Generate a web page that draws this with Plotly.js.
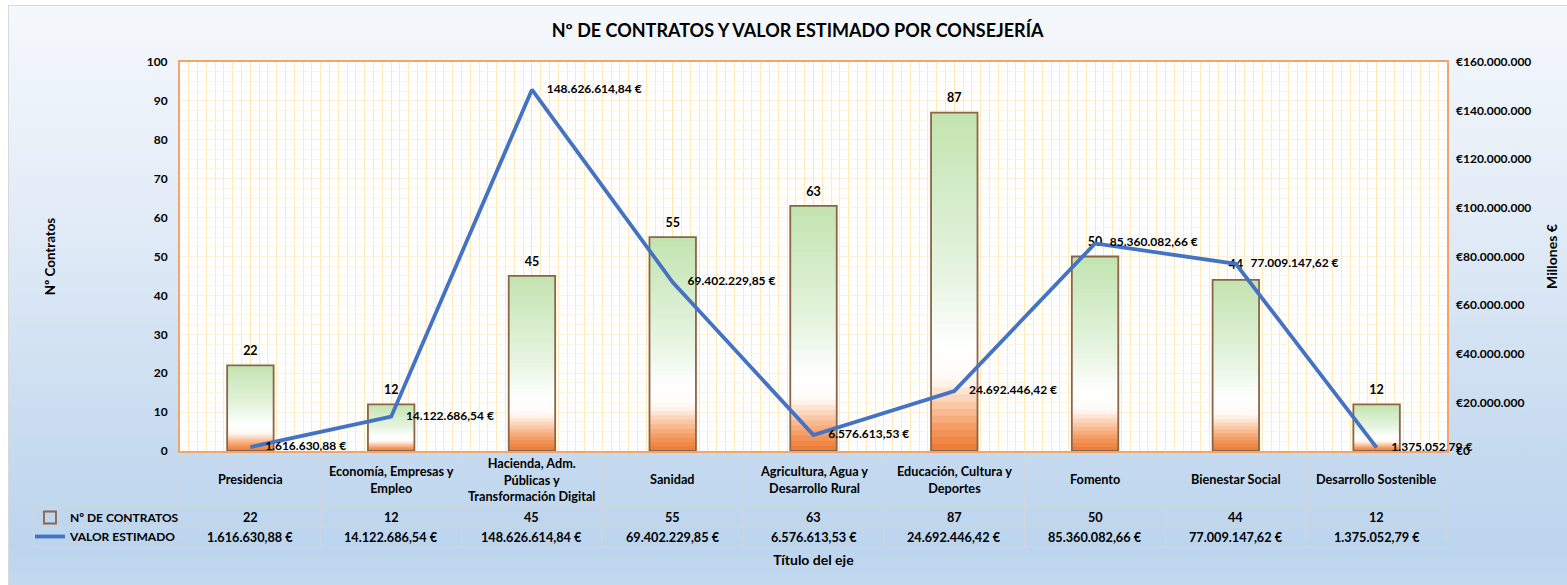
<!DOCTYPE html>
<html>
<head>
<meta charset="utf-8">
<script src="https://cdn.plot.ly/plotly-3.0.1.min.js"></script>
<style>
  html, body { margin: 0; padding: 0; background: #ffffff; }
  #wrap { position: relative; width: 1567px; height: 585px; overflow: hidden; }
  #bg { position: absolute; left: 8px; top: 5px; width: 1580px; height: 600px;
        border: 1.5px solid #d9d9d9;
        background: linear-gradient(to bottom, #f5f8fc 0%, #e2ecf7 35%, #c9dcf0 70%, #bcd5ee 90%, #c6dbef 100%); }
  #chart { position: absolute; left: 0; top: 0; width: 1567px; height: 585px; }
</style>
</head>
<body>
<div id="wrap">
  <div id="bg"></div>
  <div id="chart"></div>
</div>
<script>
// ---------------- data ----------------
const categories = [
  "Presidencia",
  "Economía, Empresas y<br>Empleo",
  "Hacienda, Adm.<br>Públicas y<br>Transformación Digital",
  "Sanidad",
  "Agricultura, Agua y<br>Desarrollo Rural",
  "Educación, Cultura y<br>Deportes",
  "Fomento",
  "Bienestar Social",
  "Desarrollo Sostenible"
];
const contratos = [22, 12, 45, 55, 63, 87, 50, 44, 12];
const valorEstimado = [1616630.88, 14122686.54, 148626614.84, 69402229.85, 6576613.53,
                       24692446.42, 85360082.66, 77009147.62, 1375052.79];
const seriesNames = ["Nº DE CONTRATOS", "VALOR ESTIMADO"];
const chartTitle = "Nº DE CONTRATOS Y VALOR ESTIMADO POR CONSEJERÍA";
const yTitle = "Nº Contratos";
const y2Title = "Millones €";
const xTitle = "Título del eje";

// ---------------- helpers ----------------
const fmtEuro = v => v.toLocaleString('de-DE', {minimumFractionDigits: 2, maximumFractionDigits: 2}) + " €";
const valorLabels = valorEstimado.map(fmtEuro);
const idx = categories.map((_, i) => i);

// gradient for bars: bottom orange -> white -> green top
const stops = [
  [0.00, [236, 120, 52]],
  [0.06, [244, 150, 90]],
  [0.13, [250, 196, 160]],
  [0.21, [255, 250, 246]],
  [0.30, [255, 255, 255]],
  [0.50, [232, 245, 226]],
  [1.00, [194, 228, 176]]
];
function colorAt(t) {
  for (let i = 1; i < stops.length; i++) {
    if (t <= stops[i][0]) {
      const a = stops[i-1], b = stops[i];
      const f = (t - a[0]) / (b[0] - a[0]);
      const c = a[1].map((v, j) => Math.round(v + (b[1][j] - v) * f));
      return `rgb(${c[0]},${c[1]},${c[2]})`;
    }
  }
  const c = stops[stops.length-1][1];
  return `rgb(${c[0]},${c[1]},${c[2]})`;
}

const FONT = "Lato, 'Open Sans', sans-serif";
const BAR_W = 0.33;
const K = 48;
const traces = [];

// gradient slices for each bar (each slice runs from its base to the bar top; later ones paint over)
for (let k = 0; k < K; k++) {
  traces.push({
    type: 'bar',
    x: idx,
    y: contratos.map(v => v * (1 - k / K)),
    base: contratos.map(v => v * k / K),
    width: BAR_W,
    marker: { color: colorAt((k + 0.5) / K), line: { width: 0 } },
    showlegend: false,
    legendgroup: 'bars',
    hoverinfo: 'skip'
  });
}

// bar outline (legend entry)
traces.push({
  type: 'bar',
  name: seriesNames[0],
  x: idx,
  y: contratos,
  base: contratos.map(() => 0),
  width: BAR_W,
  marker: { color: 'rgba(0,0,0,0)', line: { color: '#8c6446', width: 1.8 } },
  legendgroup: 'bars',
  showlegend: true
});

// bar value labels
traces.push({
  type: 'scatter',
  mode: 'markers+text',
  x: idx,
  y: contratos,
  marker: { size: 10, color: 'rgba(0,0,0,0)' },
  text: contratos.map(String),
  textposition: 'top center',
  textfont: { family: FONT, size: 12.5, color: '#000', weight: 700 },
  cliponaxis: false,
  showlegend: false
});

// line series
traces.push({
  type: 'scatter',
  mode: 'lines+markers+text',
  name: seriesNames[1],
  x: idx,
  y: valorEstimado,
  yaxis: 'y2',
  line: { color: '#4472c4', width: 3.8 },
  marker: { size: 22, color: 'rgba(0,0,0,0)' },
  text: valorLabels,
  textposition: 'middle right',
  textfont: { family: FONT, size: 12, color: '#000', weight: 700 },
  cliponaxis: false,
  showlegend: true
});

// ---------------- table below plot (annotations + lines) ----------------
const L = 180, R = 1447, T = 62, B = 451;
const pw = R - L, ph = B - T;
const px2x = px => (px - L) / pw;
const py2y = py => (B - py) / ph;

const TF = { family: FONT, size: 12.7, color: '#000', weight: 700 };
const annotations = [];
categories.forEach((c, i) => {
  annotations.push({ x: i, xref: 'x', y: py2y(479), yref: 'paper', xanchor: 'center', yanchor: 'middle',
    text: c, showarrow: false, font: TF, align: 'center' });
  annotations.push({ x: i, xref: 'x', y: py2y(517), yref: 'paper', xanchor: 'center', yanchor: 'middle',
    text: String(contratos[i]), showarrow: false, font: TF });
  annotations.push({ x: i, xref: 'x', y: py2y(537), yref: 'paper', xanchor: 'center', yanchor: 'middle',
    text: valorLabels[i], showarrow: false, font: TF });
});

const gridC = '#d2d6da';
const shapes = [];
for (let i = 0; i <= categories.length; i++) {
  shapes.push({ type: 'line', xref: 'x', yref: 'paper', x0: i - 0.5, x1: i - 0.5,
    y0: py2y(452), y1: py2y(547), line: { color: gridC, width: 1 } });
}
[507, 527, 547].forEach(py => {
  shapes.push({ type: 'line', xref: 'paper', yref: 'paper', x0: px2x(34), x1: 1,
    y0: py2y(py), y1: py2y(py), line: { color: gridC, width: 1 } });
});
shapes.push({ type: 'line', xref: 'paper', yref: 'paper', x0: px2x(34), x1: px2x(34),
  y0: py2y(507), y1: py2y(547), line: { color: gridC, width: 1 } });

const AXT = { family: FONT, size: 14, color: '#000', weight: 700 };
const TICKF = { family: FONT, size: 12, color: '#000', weight: 700 };

const layout = {
  width: 1567, height: 585,
  margin: { l: L, r: 1567 - R, t: T, b: 585 - B },
  paper_bgcolor: 'rgba(0,0,0,0)',
  plot_bgcolor: '#ffffff',
  separators: ',.',
  barmode: 'overlay',
  showlegend: true,
  hovermode: false,
  font: { family: FONT, size: 12, color: '#000' },
  title: { text: chartTitle, x: 0.509, xref: 'container', xanchor: 'center',
           y: 1 - 31 / 585, yref: 'container', yanchor: 'middle',
           font: { family: FONT, size: 18, color: '#000', weight: 700 } },
  xaxis: {
    range: [-0.5, categories.length - 0.5],
    tickmode: 'linear', tick0: 0, dtick: 1,
    showticklabels: false, ticks: '',
    showgrid: true, gridcolor: '#ffe6ad', gridwidth: 1,
    minor: { tick0: -0.5, dtick: 1 / 16, showgrid: true, gridcolor: '#ffe9b6', gridwidth: 1, ticks: '' },
    showline: true, linecolor: '#f4a46a', linewidth: 2, mirror: true,
    zeroline: false,
    title: { text: xTitle, standoff: 103, font: AXT },
    automargin: false
  },
  yaxis: {
    range: [0, 100], dtick: 10, tick0: 0,
    showgrid: true, gridcolor: '#fdf0d8', gridwidth: 1,
    minor: { dtick: 2.5, showgrid: true, gridcolor: '#fdf4e4', gridwidth: 1, ticks: '' },
    showline: true, linecolor: '#f4a46a', linewidth: 2, mirror: true,
    zeroline: false, ticks: '', ticklabelstandoff: 8,
    tickfont: TICKF,
    title: { text: yTitle, standoff: 88, font: { family: FONT, size: 13.3, color: '#000', weight: 700 } },
    automargin: false
  },
  yaxis2: {
    overlaying: 'y', side: 'right',
    range: [0, 160000000], dtick: 20000000, tick0: 0,
    tickprefix: '€', tickformat: ',d',
    showgrid: false, zeroline: false, showline: false, ticks: '', ticklabelstandoff: 8,
    tickfont: TICKF,
    title: { text: y2Title, standoff: 16, font: AXT },
    automargin: false
  },
  legend: {
    x: px2x(30), xanchor: 'left', y: py2y(503), yanchor: 'top',
    bgcolor: 'rgba(0,0,0,0)', borderwidth: 0,
    font: { family: FONT, size: 12, color: '#000', weight: 700 },
    tracegroupgap: 0, traceorder: 'normal', itemwidth: 30
  },
  annotations: annotations,
  shapes: shapes
};

Plotly.newPlot('chart', traces, layout, { displayModeBar: false, staticPlot: true });
</script>
</body>
</html>
